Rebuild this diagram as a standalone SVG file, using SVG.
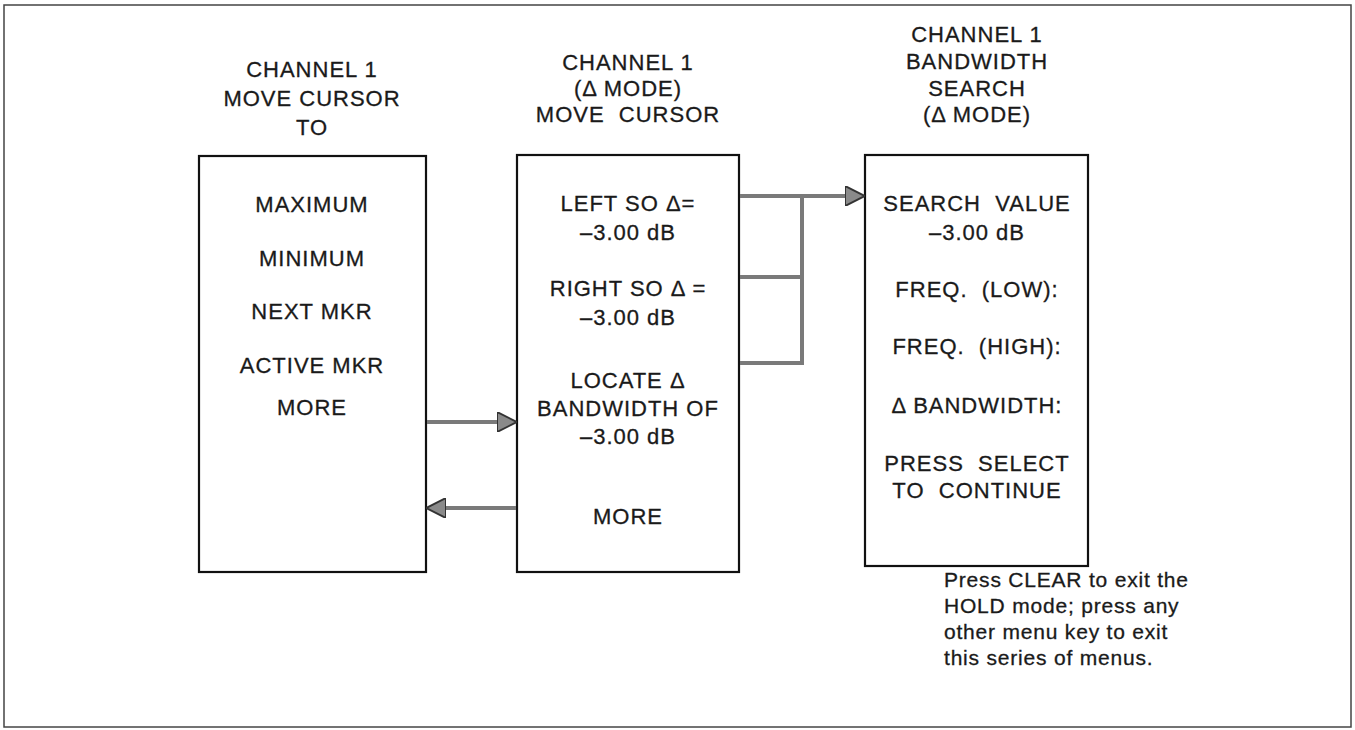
<svg xmlns="http://www.w3.org/2000/svg" width="1355" height="730" viewBox="0 0 1355 730">
<style>
text{font-family:"Liberation Sans",Arial,sans-serif;font-size:22px;fill:#1a1a1a;stroke:#1a1a1a;stroke-width:0.3;letter-spacing:1px;white-space:pre}
.c{text-anchor:middle}
.n{font-size:21px;letter-spacing:0.8px}
.box{fill:#fff;stroke:#111;stroke-width:2.2}
.conn{fill:none;stroke:#7a7a7a;stroke-width:4}
</style>
<defs>
<marker id="ah" viewBox="0 0 10 10" refX="9" refY="5" markerWidth="5" markerHeight="5" orient="auto" markerUnits="strokeWidth">
<path d="M0,0 L10,5 L0,10 Z" fill="#8a8a8a" stroke="#333" stroke-width="1"/>
</marker>
</defs>
<rect x="4" y="5" width="1347" height="722" fill="#fff" stroke="#444" stroke-width="1.5"/>
<g id="col1">
<text class="c" x="312" y="77">CHANNEL 1</text>
<text class="c" x="312" y="106">MOVE CURSOR</text>
<text class="c" x="312" y="135">TO</text>
<rect class="box" x="199" y="156" width="227" height="416"/>
<text class="c" x="312" y="212">MAXIMUM</text>
<text class="c" x="312" y="266">MINIMUM</text>
<text class="c" x="312" y="319">NEXT MKR</text>
<text class="c" x="312" y="373">ACTIVE MKR</text>
<text class="c" x="312" y="415">MORE</text>
</g>
<g id="col2">
<text class="c" x="628" y="70">CHANNEL 1</text>
<text class="c" x="628" y="96">(Δ MODE)</text>
<text class="c" x="628" y="122">MOVE  CURSOR</text>
<rect class="box" x="517" y="155" width="222" height="417"/>
<text class="c" x="628" y="211">LEFT SO Δ=</text>
<text class="c" x="628" y="240">–3.00 dB</text>
<text class="c" x="628" y="296">RIGHT SO Δ =</text>
<text class="c" x="628" y="325">–3.00 dB</text>
<text class="c" x="628" y="388">LOCATE Δ</text>
<text class="c" x="628" y="416">BANDWIDTH OF</text>
<text class="c" x="628" y="444">–3.00 dB</text>
<text class="c" x="628" y="524">MORE</text>
</g>
<g id="col3">
<text class="c" x="977" y="42">CHANNEL 1</text>
<text class="c" x="977" y="69">BANDWIDTH</text>
<text class="c" x="977" y="96">SEARCH</text>
<text class="c" x="977" y="122">(Δ MODE)</text>
<rect class="box" x="865" y="155" width="223" height="411"/>
<text class="c" x="977" y="211">SEARCH  VALUE</text>
<text class="c" x="977" y="240">–3.00 dB</text>
<text class="c" x="977" y="297">FREQ.  (LOW):</text>
<text class="c" x="977" y="354">FREQ.  (HIGH):</text>
<text class="c" x="977" y="413">Δ BANDWIDTH:</text>
<text class="c" x="977" y="471">PRESS  SELECT</text>
<text class="c" x="977" y="498">TO  CONTINUE</text>
</g>
<g id="note">
<text class="n" x="944" y="587">Press CLEAR to exit the</text>
<text class="n" x="944" y="613">HOLD mode; press any</text>
<text class="n" x="944" y="639">other menu key to exit</text>
<text class="n" x="944" y="665">this series of menus.</text>
</g>
<g id="connectors">
<line class="conn" x1="427" y1="422" x2="515" y2="422" marker-end="url(#ah)"/>
<line class="conn" x1="516" y1="508" x2="428" y2="508" marker-end="url(#ah)"/>
<line class="conn" x1="740" y1="196" x2="863" y2="196" marker-end="url(#ah)"/>
<polyline class="conn" points="802,196 802,363 740,363"/>
<line class="conn" x1="740" y1="277" x2="802" y2="277"/>
</g>
</svg>
